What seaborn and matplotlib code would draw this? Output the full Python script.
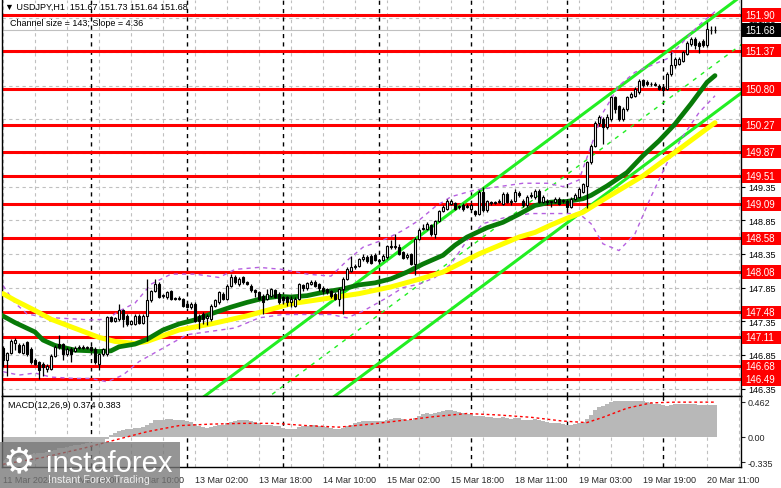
import numpy as np
import matplotlib
matplotlib.use("Agg")
import matplotlib.pyplot as plt
from matplotlib.patches import Rectangle
from matplotlib.transforms import blended_transform_factory
import seaborn as sns

# ---------------- data ----------------
open_ = [146.95,146.77,146.88,147.02,147.00,146.88,147.04,146.94,146.77,146.74,
         146.72,146.64,146.64,146.84,147.01,147.01,146.86,146.94,146.91,146.95,
         146.96,146.95,146.96,146.94,146.72,146.86,146.86,147.41,147.36,147.38,
         147.51,147.43,147.31,147.31,147.43,147.33,147.43,147.66,147.80,147.90,
         147.72,147.71,147.80,147.69,147.68,147.68,147.61,147.56,147.61,147.43,
         147.46,147.40,147.38,147.58,147.63,147.76,147.68,147.88,148.00,147.90,
         148.00,147.93,147.88,147.81,147.78,147.73,147.68,147.73,147.81,147.76,
         147.71,147.71,147.63,147.58,147.68,147.89,147.84,147.91,147.93,147.90,
         147.85,147.83,147.80,147.75,147.68,147.83,147.98,148.10,148.15,148.17,
         148.27,148.31,148.32,148.33,148.26,148.26,148.30,148.47,148.45,148.45,
         148.38,148.30,148.35,148.20,148.57,148.72,148.72,148.78,148.65,148.84,
         148.99,149.02,149.09,149.10,149.05,149.07,149.05,149.02,148.99,148.95,
         149.27,149.00,149.12,149.11,149.12,149.09,149.24,149.12,149.14,149.25,
         149.14,149.07,149.22,149.19,149.29,149.12,149.14,149.12,149.12,149.17,
         149.14,149.14,149.05,149.17,149.20,149.27,149.36,149.71,149.96,150.30,
         150.35,150.23,150.35,150.68,150.55,150.35,150.50,150.68,150.70,150.75,
         150.93,150.90,150.88,150.87,150.85,150.83,150.80,151.02,151.15,151.17,
         151.22,151.32,151.47,151.54,151.49,151.52,151.45,151.68,151.67]
high = [146.98,146.90,147.08,147.10,147.03,147.02,147.06,146.96,146.80,146.76,
        146.74,146.72,146.86,146.99,147.14,147.03,146.97,146.96,146.98,146.99,
        146.99,146.98,146.98,146.96,146.88,146.95,147.43,147.43,147.42,147.61,
        147.53,147.45,147.37,147.45,147.45,147.45,147.98,147.82,147.98,147.93,
        147.76,147.80,147.82,147.71,147.72,147.70,147.63,147.63,147.63,147.45,
        147.48,147.46,147.60,147.68,147.80,147.78,147.90,148.05,148.03,148.00,
        148.02,147.95,147.90,147.83,147.80,147.75,147.83,147.85,147.83,147.78,
        147.73,147.73,147.73,147.71,147.92,147.91,147.94,147.97,147.96,147.92,
        147.87,147.85,147.82,147.78,147.85,148.00,148.15,148.32,148.20,148.29,
        148.35,148.33,148.35,148.36,148.28,148.35,148.49,148.55,148.65,148.50,
        148.40,148.36,148.37,148.60,148.73,148.80,148.82,148.80,148.86,149.01,
        149.07,149.17,149.16,149.12,149.08,149.10,149.09,149.10,149.01,149.30,
        149.34,149.15,149.14,149.14,149.17,149.27,149.27,149.17,149.32,149.29,
        149.17,149.22,149.27,149.32,149.32,149.22,149.17,149.14,149.19,149.19,
        149.16,149.16,149.19,149.25,149.34,149.41,149.73,149.98,150.33,150.42,
        150.38,150.43,150.70,150.70,150.57,150.53,150.70,150.75,150.83,150.95,
        150.95,150.93,150.91,150.90,150.87,150.85,151.05,151.35,151.28,151.28,
        151.37,151.52,151.58,151.57,151.51,151.55,151.79,151.74,151.73]
low = [146.67,146.54,146.86,146.92,146.88,146.86,146.84,146.72,146.70,146.49,
       146.54,146.60,146.62,146.82,146.93,146.77,146.84,146.74,146.89,146.93,
       146.93,146.93,146.89,146.72,146.62,146.84,146.84,147.34,147.34,147.36,
       147.26,147.28,147.29,147.29,147.31,147.31,147.06,147.63,147.78,147.69,
       147.70,147.68,147.66,147.66,147.66,147.56,147.54,147.53,147.34,147.24,
       147.31,147.29,147.36,147.56,147.61,147.66,147.66,147.86,147.90,147.88,
       147.90,147.89,147.79,147.71,147.66,147.46,147.66,147.71,147.69,147.61,
       147.61,147.58,147.56,147.56,147.66,147.80,147.82,147.89,147.86,147.80,
       147.76,147.75,147.70,147.66,147.58,147.45,147.96,148.08,148.13,148.15,
       148.25,148.22,148.20,148.24,148.20,148.24,148.28,148.43,148.43,148.33,
       148.27,148.28,148.18,148.03,148.55,148.70,148.70,148.62,148.58,148.82,
       148.97,149.00,149.07,149.00,149.02,148.99,149.03,149.00,148.92,148.93,
       148.97,148.97,149.08,149.09,149.10,149.07,149.10,149.07,149.12,149.20,
       149.04,149.05,149.18,149.17,149.10,149.10,149.07,149.05,149.10,149.07,
       149.10,149.02,149.03,149.15,149.18,149.25,149.03,149.69,149.94,150.25,
       149.98,150.20,150.32,150.45,150.33,150.33,150.48,150.66,150.68,150.73,
       150.83,150.85,150.85,150.84,150.78,150.75,150.78,151.00,151.12,151.15,
       151.20,151.30,151.44,151.40,151.33,151.42,151.43,151.62,151.64]
close = [146.77,146.88,147.06,147.07,146.90,146.99,146.86,146.74,146.72,146.62,
         146.67,146.69,146.84,146.96,146.96,146.86,146.94,146.86,146.95,146.96,
         146.95,146.96,146.92,146.74,146.86,146.93,147.41,147.36,147.40,147.51,
         147.38,147.31,147.35,147.43,147.33,147.43,147.66,147.80,147.90,147.71,
         147.74,147.78,147.68,147.68,147.70,147.58,147.56,147.61,147.36,147.36,
         147.38,147.43,147.58,147.66,147.78,147.68,147.88,148.00,147.93,147.98,
         147.93,147.91,147.81,147.79,147.68,147.63,147.76,147.83,147.71,147.63,
         147.66,147.63,147.68,147.68,147.90,147.84,147.92,147.93,147.88,147.84,
         147.80,147.78,147.73,147.68,147.83,147.98,148.13,148.15,148.17,148.27,
         148.30,148.24,148.22,148.26,148.24,148.32,148.47,148.45,148.47,148.35,
         148.29,148.33,148.20,148.57,148.71,148.74,148.79,148.65,148.84,148.99,
         149.04,149.14,149.14,149.02,149.06,149.02,149.06,149.07,148.94,149.27,
         149.00,149.13,149.11,149.12,149.14,149.24,149.12,149.14,149.27,149.22,
         149.07,149.20,149.21,149.29,149.12,149.19,149.12,149.12,149.17,149.09,
         149.14,149.05,149.17,149.22,149.32,149.39,149.71,149.96,150.30,150.38,
         150.23,150.38,150.68,150.50,150.35,150.50,150.68,150.72,150.80,150.92,
         150.86,150.88,150.87,150.86,150.80,150.78,151.02,151.15,151.25,151.25,
         151.35,151.49,151.55,151.45,151.44,151.45,151.69,151.67,151.68]

ma_green_bar = [-1, 3, 8, 10, 13, 18, 22, 24, 27, 29, 33, 36, 40, 44, 48, 52, 57, 61, 65, 69,
                72, 76, 80, 85, 89, 93, 97, 101, 105, 110, 113, 116, 121, 125, 129, 133, 137,
                141, 145, 147, 151, 156, 160, 164, 168, 172, 176, 178]
ma_green = [147.46, 147.33, 147.19, 147.07, 146.99, 146.92, 146.91, 146.90, 146.91, 146.97,
            147.01, 147.08, 147.22, 147.31, 147.37, 147.46, 147.56, 147.63, 147.69, 147.72,
            147.71, 147.73, 147.78, 147.83, 147.89, 147.92, 147.98, 148.08, 148.20, 148.33,
            148.48, 148.60, 148.74, 148.82, 148.94, 149.07, 149.12, 149.13, 149.17, 149.22,
            149.36, 149.56, 149.81, 150.03, 150.28, 150.58, 150.90, 151.00]

ma_yellow_bar = [0, 3, 8, 12, 16, 20, 24, 28, 33, 36, 44, 52, 61, 69, 72, 80, 89, 97, 105,
                 110, 119, 129, 133, 137, 141, 145, 151, 160, 168, 178]
ma_yellow = [147.76, 147.66, 147.51, 147.38, 147.29, 147.20, 147.11, 147.05, 147.02, 147.05,
             147.22, 147.31, 147.43, 147.56, 147.61, 147.68, 147.76, 147.86, 147.99, 148.08,
             148.35, 148.60, 148.67, 148.78, 148.88, 148.97, 149.19, 149.51, 149.86, 150.30]

band_up_bar = [0, 3, 6, 10, 16, 22, 26, 29, 33, 37, 42, 48, 54, 58, 64, 70, 76, 82, 86, 90,
               96, 100, 104, 108, 112, 118, 124, 130, 136, 140, 144, 147, 150, 154, 158, 162,
               166, 170, 174, 178]
band_up = [147.88, 147.62, 147.46, 147.41, 147.39, 147.37, 147.38, 147.50, 147.62, 147.90,
           148.05, 148.05, 148.00, 148.12, 148.15, 148.12, 148.05, 148.02, 148.25, 148.45,
           148.58, 148.70, 148.85, 149.05, 149.20, 149.30, 149.35, 149.40, 149.40, 149.35,
           149.45, 149.95, 150.45, 150.85, 151.05, 151.15, 151.25, 151.50, 151.75, 151.95]
band_lo_bar = [0, 4, 8, 12, 18, 22, 26, 30, 34, 40, 46, 52, 58, 64, 70, 76, 82, 86, 90, 96,
               100, 104, 108, 112, 116, 120, 126, 132, 138, 144, 147, 150, 154, 158, 162, 166,
               170, 174, 178]
band_lo = [146.60, 146.55, 146.58, 146.52, 146.50, 146.50, 146.45, 146.55, 146.75, 146.95,
           147.15, 147.20, 147.25, 147.40, 147.45, 147.45, 147.45, 147.40, 147.50, 147.70,
           147.85, 147.90, 148.00, 148.20, 148.55, 148.80, 148.90, 148.95, 148.95, 148.95,
           148.80, 148.50, 148.40, 148.65, 149.20, 149.70, 150.10, 150.45, 150.70]

channel_bar = [40, 185]
channel_upper = [145.775, 152.20]
channel_mid = [145.055, 151.48]
channel_lower = [144.335, 150.76]

levels = [151.90, 151.37, 150.80, 150.27, 149.87, 149.51, 149.09, 148.58, 148.08,
          147.48, 147.11, 146.68, 146.49]
grid_levels = [146.35, 146.85, 147.35, 147.85, 148.35, 148.85, 149.35, 149.85,
               150.35, 150.85, 151.35, 151.85]
grid_label_levels = [146.35, 146.85, 147.35, 147.85, 148.35, 148.85, 149.35, 150.35, 151.85]
last_price = 151.68

macd = [-0.30, -0.29, -0.28, -0.26, -0.25, -0.24, -0.23, -0.22, -0.21, -0.21,
        -0.21, -0.20, -0.19, -0.17, -0.15, -0.14, -0.13, -0.12, -0.11, -0.10,
        -0.09, -0.08, -0.07, -0.07, -0.07, -0.06, -0.02, 0.02,
        0.05, 0.08, 0.09, 0.10, 0.11, 0.12, 0.12, 0.13, 0.16, 0.19, 0.22, 0.23, 0.23,
        0.24, 0.24, 0.23, 0.23, 0.22, 0.21, 0.20, 0.17, 0.15, 0.13,
        0.12, 0.13, 0.14, 0.16, 0.16, 0.18, 0.20, 0.21, 0.22, 0.22, 0.22, 0.21, 0.20,
        0.18, 0.16, 0.16, 0.16, 0.15, 0.14, 0.12, 0.11, 0.11,
        0.11, 0.13, 0.14, 0.15, 0.16, 0.16, 0.15, 0.14, 0.13, 0.12, 0.10, 0.10, 0.12,
        0.14, 0.16, 0.18, 0.20, 0.21, 0.21, 0.21, 0.21, 0.21, 0.21,
        0.23, 0.24, 0.25, 0.25, 0.24, 0.23, 0.22, 0.25, 0.28, 0.30, 0.32, 0.31, 0.32,
        0.33, 0.34, 0.35, 0.35, 0.34, 0.33, 0.32, 0.31, 0.30, 0.28, 0.28, 0.28,
        0.27, 0.26, 0.25, 0.25, 0.26, 0.25, 0.24, 0.25, 0.25, 0.23, 0.23, 0.23, 0.24,
        0.22, 0.21, 0.20, 0.19, 0.19, 0.18, 0.17, 0.16, 0.16, 0.17, 0.18, 0.20,
        0.24, 0.29, 0.36, 0.40, 0.41, 0.43, 0.46, 0.47, 0.47, 0.47, 0.48, 0.48, 0.48,
        0.48, 0.47, 0.46, 0.45, 0.44, 0.43, 0.42, 0.41, 0.42, 0.43, 0.43, 0.43, 0.44,
        0.44, 0.43, 0.42, 0.42, 0.42, 0.42, 0.42]
signal_bar = [0, 10, 20, 28, 36, 44, 52, 60, 68, 76, 84, 92, 100, 108, 116, 124, 132,
              140, 146, 150, 156, 162, 168, 174, 178]
signal = [-0.36, -0.27, -0.15, -0.04, 0.07, 0.15, 0.17, 0.18, 0.18, 0.15, 0.13, 0.17,
          0.22, 0.27, 0.31, 0.29, 0.26, 0.21, 0.19, 0.26, 0.38, 0.45, 0.46, 0.46, 0.46]

tick_bars = [0, 16, 32, 48, 64, 80, 96, 112, 128, 144, 160, 176]
tick_labels = ["11 Mar 2024", "11 Mar 18:00", "12 Mar 10:00", "13 Mar 02:00",
               "13 Mar 18:00", "14 Mar 10:00", "15 Mar 02:00", "15 Mar 18:00",
               "18 Mar 11:00", "19 Mar 03:00", "19 Mar 19:00", "20 Mar 11:00"]
day_sep_bars = [22, 46, 70, 94, 117, 141, 165]

assert len(open_) == len(high) == len(low) == len(close) == len(macd) == 179

# ---------------- style ----------------
sns.set_style("white")
plt.rcParams['font.family'] = ['Liberation Sans', 'DejaVu Sans']
FS = 6.5

W, H = 781, 489
fig = plt.figure(figsize=(W / 100, H / 100), dpi=100)
ax = fig.add_axes([2 / W, (H - 397) / H, 739 / W, 396 / H])
ax2 = fig.add_axes([2 / W, (H - 468) / H, 739 / W, 71 / H])

XL = (-0.25, 184.5)
for a in (ax, ax2):
    a.set_xlim(*XL)
    a.set_facecolor("white")
ax.set_ylim(146.239, 152.123)
ax2.set_ylim(-0.396, 0.541)

dash = (0, (3, 3))
for a in (ax, ax2):
    for b in range(0, 185, 8):
        a.axvline(b, color="#c0c0c0", lw=0.8, ls=dash, zorder=0)
    for b in day_sep_bars:
        a.axvline(b, color="black", lw=1.0, ls=dash, zorder=0.5)
for g in grid_levels:
    ax.axhline(g, color="#c0c0c0", lw=0.8, ls=dash, zorder=0)
ax.axhline(last_price, color="#c0c0c0", lw=0.8, zorder=0.6)

for lv in levels:
    ax.axhline(lv, color="#ff0000", lw=2.2, zorder=1)

# regression channel
sns.lineplot(x=channel_bar, y=channel_upper, ax=ax, color="#22ee22", lw=2.2, zorder=2)
sns.lineplot(x=channel_bar, y=channel_lower, ax=ax, color="#22ee22", lw=2.2, zorder=2)
sns.lineplot(x=channel_bar, y=channel_mid, ax=ax, color="#22ee22", lw=1.0, zorder=2,
             linestyle=(0, (3, 4)))

# bands
sns.lineplot(x=band_up_bar, y=band_up, ax=ax, color="#b660e0", lw=1.0, zorder=2.5,
             linestyle=(0, (3, 3)))
sns.lineplot(x=band_lo_bar, y=band_lo, ax=ax, color="#b660e0", lw=1.0, zorder=2.5,
             linestyle=(0, (3, 3)))

# moving averages
sns.lineplot(x=ma_yellow_bar, y=ma_yellow, ax=ax, color="#ffff00", lw=3.6, zorder=3)
sns.lineplot(x=ma_green_bar, y=ma_green, ax=ax, color="#087a08", lw=3.4, zorder=3.1)

# candles
o = np.array(open_); c = np.array(close); hi = np.array(high); lo = np.array(low)
xs = np.arange(len(c))
up = c >= o
ax.vlines(xs, lo, hi, color="black", lw=0.9, zorder=4)
bottom = np.minimum(o, c)
height = np.maximum(np.abs(c - o), 0.012)
ax.bar(xs, height, bottom=bottom, width=0.7,
       color=np.where(up, "white", "black"), edgecolor="black", linewidth=0.8, zorder=5)

# MACD
ax2.bar(xs, macd, width=0.78, color="#b8b8b8", linewidth=0, zorder=2)
sns.lineplot(x=signal_bar, y=signal, ax=ax2, color="#ff0000", lw=1.0, zorder=3,
             linestyle=(0, (2, 2)))

for a in (ax, ax2):
    for s in a.spines.values():
        s.set_color("black"); s.set_linewidth(1.0)
    a.set_xlabel(""); a.set_ylabel("")
ax.spines["top"].set_visible(False)

ax.yaxis.tick_right()
ax.set_yticks(grid_levels)
ax.set_yticklabels([f"{g:.2f}" if g in grid_label_levels else "" for g in grid_levels])
ax.tick_params(axis="y", direction="out", length=3, width=0.8, pad=2, labelsize=FS,
               colors="black")
ax.set_xticks([])

ax2.yaxis.tick_right()
ax2.set_yticks([0.462, 0.0, -0.335])
ax2.set_yticklabels(["0.462", "0.00", "-0.335"])
ax2.tick_params(axis="y", direction="out", length=3, width=0.8, pad=2, labelsize=FS)
ax2.set_xticks(tick_bars)
ax2.set_xticklabels(tick_labels)
ax2.tick_params(axis="x", direction="out", length=4, width=0.8, pad=2, labelsize=FS)
for t in ax2.get_xticklabels():
    t.set_horizontalalignment("left")

tr = blended_transform_factory(ax.transAxes, ax.transData)
bw = 40 / 739
for lv in levels:
    ax.add_patch(Rectangle((1 + 1.5 / 739, lv - 0.1), bw, 0.2, transform=tr,
                           facecolor="#ff0000", edgecolor="none", clip_on=False, zorder=6))
    ax.text(1 + 4.5 / 739, lv, f"{lv:.2f}", transform=tr, color="white", fontsize=FS + 0.5,
            va="center", ha="left", clip_on=False, zorder=7)
ax.add_patch(Rectangle((1 + 1.5 / 739, last_price - 0.1), bw, 0.2, transform=tr,
                       facecolor="black", edgecolor="none", clip_on=False, zorder=6))
ax.text(1 + 4.5 / 739, last_price, f"{last_price:.2f}", transform=tr, color="white",
        fontsize=FS + 0.5, va="center", ha="left", clip_on=False, zorder=7)

fig.text(5 / W, 1 - 7.5 / H, "▼ USDJPY,H1  151.67 151.73 151.64 151.68", fontsize=FS,
         va="center", ha="left", color="black")
fig.text(10 / W, 1 - 24 / H, "Channel size = 143; Slope = 4.36", fontsize=FS,
         va="center", ha="left", color="black")
fig.text(8 / W, 1 - 406 / H, "MACD(12,26,9) 0.374 0.383", fontsize=FS,
         va="center", ha="left", color="black")

fig.patches.append(Rectangle((0, 0), 180 / W, 46 / H, transform=fig.transFigure,
                             facecolor="#777777", alpha=0.78, edgecolor="none", zorder=10))
fig.text(3 / W, 1 - 462 / H, "⚙", fontsize=26, color="white", va="center", ha="left",
         family="DejaVu Sans", zorder=11)
fig.text(46 / W, 1 - 472 / H, "instaforex", fontsize=21, color="white", va="baseline",
         ha="left", zorder=11)
fig.text(48 / W, 1 - 480 / H, "Instant Forex Trading", fontsize=7.7, color="#eeeeee",
         va="center", ha="left", zorder=11)

fig.savefig("out.png", dpi=100)
